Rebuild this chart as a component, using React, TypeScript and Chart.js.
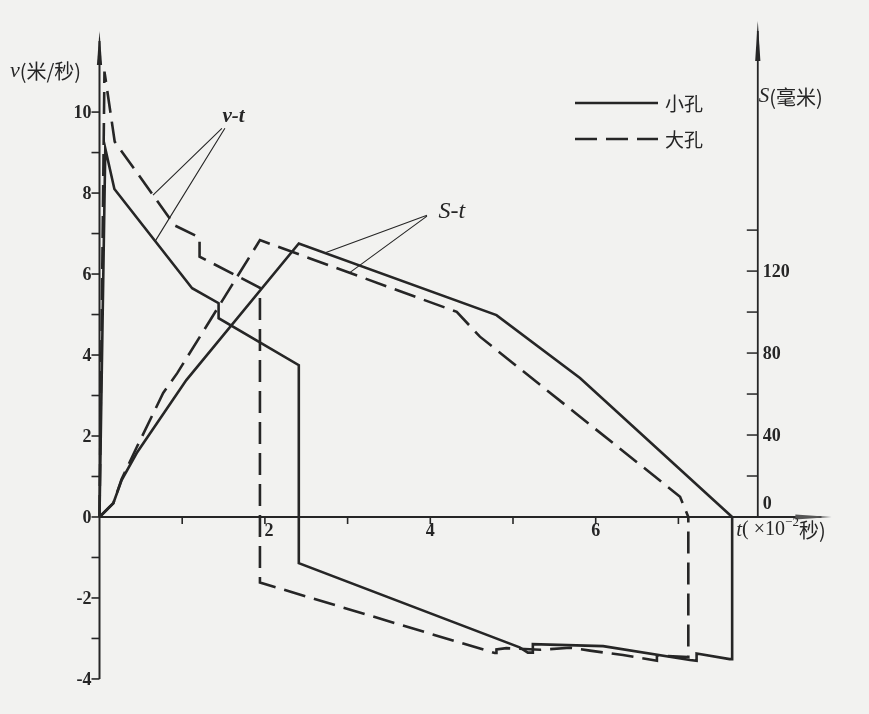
import React, { useEffect, useRef } from "react";
import { Chart, registerables } from "chart.js";

Chart.register(...registerables);

// ---------- data (t in 10^-2 s, v in m/s, S in mm) ----------
const seriesNames = ["小孔", "大孔"];

const smallVT_t = [0, 0.07, 0.18, 1.12, 1.44, 1.44, 2.41, 2.41, 5.08, 5.18, 5.24, 5.24, 6.09, 7.14, 7.22, 7.22, 7.62, 7.65, 7.65];
const smallVT_v = [0, 9.1, 8.1, 5.65, 5.28, 4.91, 3.75, -1.14, -3.22, -3.35, -3.35, -3.14, -3.19, -3.53, -3.55, -3.37, -3.51, -3.51, 0];

const largeVT_t = [0, 0.06, 0.184, 0.91, 1.21, 1.21, 1.94, 1.94, 4.78, 4.8, 4.8, 4.92, 5.33, 5.69, 5.93, 6.33, 6.74, 6.74, 7.12, 7.12];
const largeVT_v = [0, 11.0, 9.27, 7.2, 6.9, 6.43, 5.66, -1.62, -3.36, -3.36, -3.27, -3.24, -3.28, -3.23, -3.3, -3.41, -3.55, -3.42, -3.46, 0];

const smallST_t = [0, 0.167, 0.268, 0.45, 1.05, 2.41, 4.8, 5.81, 7.65];
const smallST_s = [0, 6.7, 18.0, 31.2, 66.8, 133.5, 98.5, 67.8, 0];

const largeST_t = [0, 0.167, 0.268, 0.45, 0.77, 0.94, 1.94, 4.32, 4.6, 7.02, 7.12];
const largeST_s = [0, 6.7, 18.5, 34.0, 60.5, 70.2, 135.1, 100.1, 88.0, 9.9, 0];

// axis ticks
const vMinorTicks = [-4, -3, -2, -1, 0, 1, 2, 3, 4, 5, 6, 7, 8, 9, 10];
const vTickLabels = [-4, -2, 0, 2, 4, 6, 8, 10];
const tMinorTicks = [1, 2, 3, 4, 5, 6, 7];
const tTickLabels = [2, 4, 6];
const sMinorTicks = [20, 40, 60, 80, 100, 120, 140];
const sTickLabels = [0, 40, 80, 120];

// mm shown per 1 m/s of the left axis (shared baseline at zero)
const S_PER_V = 19.76;
const V_MIN = -4.1;
const V_MAX = 12.2;
const T_MAX = 9;
const S_AXIS_T = 7.96;

const zip = (xs: number[], ys: number[]) => xs.map((x, i) => ({ x, y: ys[i] }));

const INK = "#262626";
const PAPER = "#f2f2f0";
const SERIF = "'Liberation Serif', 'DejaVu Serif', 'Noto Sans CJK SC', serif";

function drawArrow(ctx: CanvasRenderingContext2D, tx: number, ty: number, dx: number, dy: number, len: number, half: number) {
  const bx = tx - dx * len;
  const by = ty - dy * len;
  const px = -dy;
  const py = dx;
  ctx.beginPath();
  ctx.moveTo(tx, ty);
  ctx.lineTo(bx + px * half, by + py * half);
  ctx.lineTo(bx - px * half, by - py * half);
  ctx.closePath();
  ctx.fill();
}

function drawRich(ctx: CanvasRenderingContext2D, parts: { text: string; font: string; dy?: number }[], x: number, y: number) {
  let cx = x;
  ctx.textAlign = "left";
  ctx.textBaseline = "middle";
  for (const p of parts) {
    ctx.font = p.font;
    ctx.fillText(p.text, cx, y + (p.dy || 0));
    cx += ctx.measureText(p.text).width;
  }
}

const paperPlugin = {
  id: "paperAxes",
  beforeDraw(chart: any) {
    const ctx = chart.ctx as CanvasRenderingContext2D;
    ctx.save();
    ctx.fillStyle = PAPER;
    ctx.fillRect(0, 0, chart.width, chart.height);
    ctx.restore();
  },
  beforeDatasetsDraw(chart: any) {
    const ctx = chart.ctx as CanvasRenderingContext2D;
    const xs = chart.scales.x;
    const ys = chart.scales.y;
    const ss = chart.scales.y1;
    const x0 = xs.getPixelForValue(0);
    const y0 = ys.getPixelForValue(0);
    ctx.save();
    ctx.strokeStyle = INK;
    ctx.fillStyle = INK;
    ctx.lineCap = "butt";

    // left v axis
    const vTop = ys.getPixelForValue(12.0);
    ctx.lineWidth = 2;
    ctx.beginPath();
    ctx.moveTo(x0, ys.getPixelForValue(-4));
    ctx.lineTo(x0, vTop + 10);
    ctx.stroke();
    drawArrow(ctx, x0, vTop, 0, -1, 34, 2.6);
    ctx.lineWidth = 1.6;
    for (const v of vMinorTicks) {
      const py = ys.getPixelForValue(v);
      ctx.beginPath();
      ctx.moveTo(x0 - 8, py);
      ctx.lineTo(x0, py);
      ctx.stroke();
    }

    // t axis
    const tEnd = xs.getPixelForValue(8.85);
    ctx.lineWidth = 2;
    ctx.beginPath();
    ctx.moveTo(x0, y0);
    ctx.lineTo(tEnd - 10, y0);
    ctx.stroke();
    ctx.fillStyle = "#555";
    drawArrow(ctx, tEnd, y0, 1, 0, 36, 2.6);
    ctx.fillStyle = INK;
    ctx.lineWidth = 1.6;
    for (const t of tMinorTicks) {
      const px = xs.getPixelForValue(t);
      ctx.beginPath();
      ctx.moveTo(px, y0);
      ctx.lineTo(px, y0 + 7);
      ctx.stroke();
    }

    // right S axis
    const sx = xs.getPixelForValue(S_AXIS_T);
    const sTop = ss.getPixelForValue(242);
    ctx.lineWidth = 1.8;
    ctx.beginPath();
    ctx.moveTo(sx, ss.getPixelForValue(0));
    ctx.lineTo(sx, sTop + 10);
    ctx.stroke();
    drawArrow(ctx, sx, sTop, 0, -1, 40, 2.6);
    ctx.lineWidth = 1.5;
    for (const s of sMinorTicks) {
      const py = ss.getPixelForValue(s);
      ctx.beginPath();
      ctx.moveTo(sx - 11, py);
      ctx.lineTo(sx, py);
      ctx.stroke();
    }
    ctx.restore();
  },
  afterDatasetsDraw(chart: any) {
    const ctx = chart.ctx as CanvasRenderingContext2D;
    const xs = chart.scales.x;
    const ys = chart.scales.y;
    const ss = chart.scales.y1;
    const x0 = xs.getPixelForValue(0);
    const y0 = ys.getPixelForValue(0);
    const sx = xs.getPixelForValue(S_AXIS_T);
    const tickFont = `bold 18px ${SERIF}`;
    const cjk = `19px 'Noto Sans CJK SC', sans-serif`;
    const cjk20 = `20px 'Noto Sans CJK SC', sans-serif`;
    const ital = `italic 22px ${SERIF}`;
    ctx.save();
    ctx.fillStyle = INK;
    ctx.strokeStyle = INK;

    // v tick labels
    ctx.font = tickFont;
    ctx.textAlign = "right";
    ctx.textBaseline = "middle";
    for (const v of vTickLabels) {
      ctx.fillText(String(v), x0 - 8, ys.getPixelForValue(v) + 1);
    }
    // t tick labels
    ctx.textAlign = "center";
    ctx.textBaseline = "top";
    for (const t of tTickLabels) {
      ctx.fillText(String(t), xs.getPixelForValue(t) + (t === 2 ? 4 : 0), y0 + 5);
    }
    // S tick labels
    ctx.textAlign = "left";
    ctx.textBaseline = "middle";
    for (const s of sTickLabels) {
      const py = s === 0 ? ss.getPixelForValue(0) - 13 : ss.getPixelForValue(s) + 1;
      ctx.fillText(String(s), sx + 5, py);
    }

    // axis titles
    drawRich(ctx, [
      { text: "v", font: ital },
      { text: "(米/秒)", font: cjk20 },
    ], 10, ys.getPixelForValue(11.0));
    drawRich(ctx, [
      { text: "S", font: `italic 21px ${SERIF}` },
      { text: "(毫米)", font: cjk20 },
    ], sx + 1, ss.getPixelForValue(205));
    drawRich(ctx, [
      { text: "t", font: `italic 21px ${SERIF}` },
      { text: "( ×10", font: `20px ${SERIF}` },
      { text: "−2", font: `13px ${SERIF}`, dy: -7 },
      { text: "秒)", font: cjk20 },
    ], xs.getPixelForValue(7.7), y0 + 13);

    // annotations with leader lines
    ctx.lineWidth = 1.1;
    const vtA = { x: xs.getPixelForValue(1.48), y: ys.getPixelForValue(9.6) };
    const vtB = { x: xs.getPixelForValue(0.647), y: ys.getPixelForValue(7.95) };
    const vtC = { x: xs.getPixelForValue(0.67), y: ys.getPixelForValue(6.8) };
    ctx.beginPath();
    ctx.moveTo(vtA.x, vtA.y);
    ctx.lineTo(vtB.x, vtB.y);
    ctx.moveTo(vtA.x + 3, vtA.y);
    ctx.lineTo(vtC.x, vtC.y);
    ctx.stroke();
    ctx.font = `italic bold 21px ${SERIF}`;
    ctx.textAlign = "center";
    ctx.textBaseline = "middle";
    ctx.fillText("v-t", xs.getPixelForValue(1.62), ys.getPixelForValue(9.88));

    const stA = { x: xs.getPixelForValue(3.96), y: ss.getPixelForValue(147.3) };
    const stB = { x: xs.getPixelForValue(2.73), y: ss.getPixelForValue(129.0) };
    const stC = { x: xs.getPixelForValue(3.03), y: ss.getPixelForValue(119.4) };
    ctx.beginPath();
    ctx.moveTo(stA.x, stA.y);
    ctx.lineTo(stB.x, stB.y);
    ctx.moveTo(stA.x, stA.y + 1);
    ctx.lineTo(stC.x, stC.y);
    ctx.stroke();
    ctx.font = `italic 24px ${SERIF}`;
    ctx.fillText("S-t", xs.getPixelForValue(4.26), ss.getPixelForValue(149));

    // legend
    const lx1 = 575;
    const lx2 = 658;
    const rows = [
      { y: 103, dash: [] as number[] },
      { y: 139, dash: [22, 9] },
    ];
    ctx.lineWidth = 2.6;
    rows.forEach((r, i) => {
      ctx.setLineDash(r.dash);
      ctx.beginPath();
      ctx.moveTo(lx1, r.y);
      ctx.lineTo(lx2, r.y);
      ctx.stroke();
      ctx.setLineDash([]);
      ctx.font = cjk;
      ctx.textAlign = "left";
      ctx.textBaseline = "middle";
      ctx.fillText(seriesNames[i], lx2 + 7, r.y + 1);
    });
    ctx.restore();
  },
};

export default function App() {
  const ref = useRef<HTMLCanvasElement | null>(null);
  useEffect(() => {
    if (!ref.current) return;
    const line = (label: string, data: any[], axis: string, dashed: boolean) => ({
      label,
      data,
      yAxisID: axis,
      showLine: true,
      borderColor: INK,
      backgroundColor: INK,
      borderWidth: 2.6,
      borderDash: dashed ? [22, 9] : [],
      pointRadius: 0,
      tension: 0,
      clip: 12,
    });
    const chart = new Chart(ref.current, {
      type: "scatter",
      data: {
        datasets: [
          line(seriesNames[0] + " v-t", zip(smallVT_t, smallVT_v), "y", false),
          line(seriesNames[1] + " v-t", zip(largeVT_t, largeVT_v), "y", true),
          line(seriesNames[0] + " S-t", zip(smallST_t, smallST_s), "y1", false),
          line(seriesNames[1] + " S-t", zip(largeST_t, largeST_s), "y1", true),
        ],
      },
      options: {
        responsive: false,
        animation: false,
        devicePixelRatio: 1,
        layout: { padding: { left: 99.5, right: 25.2, top: 23, bottom: 31 } },
        plugins: { legend: { display: false }, tooltip: { enabled: false } },
        scales: {
          x: { type: "linear", min: 0, max: T_MAX, display: false },
          y: { type: "linear", min: V_MIN, max: V_MAX, display: false },
          y1: { type: "linear", min: V_MIN * S_PER_V, max: V_MAX * S_PER_V, display: false },
        },
      },
      plugins: [paperPlugin],
    } as any);
    return () => chart.destroy();
  }, []);
  return (
    <div style={{ position: "fixed", left: 0, top: 0, width: 869, height: 714, background: PAPER }}>
      <canvas ref={ref} width={869} height={714} style={{ display: "block", width: 869, height: 714 }} />
    </div>
  );
}
